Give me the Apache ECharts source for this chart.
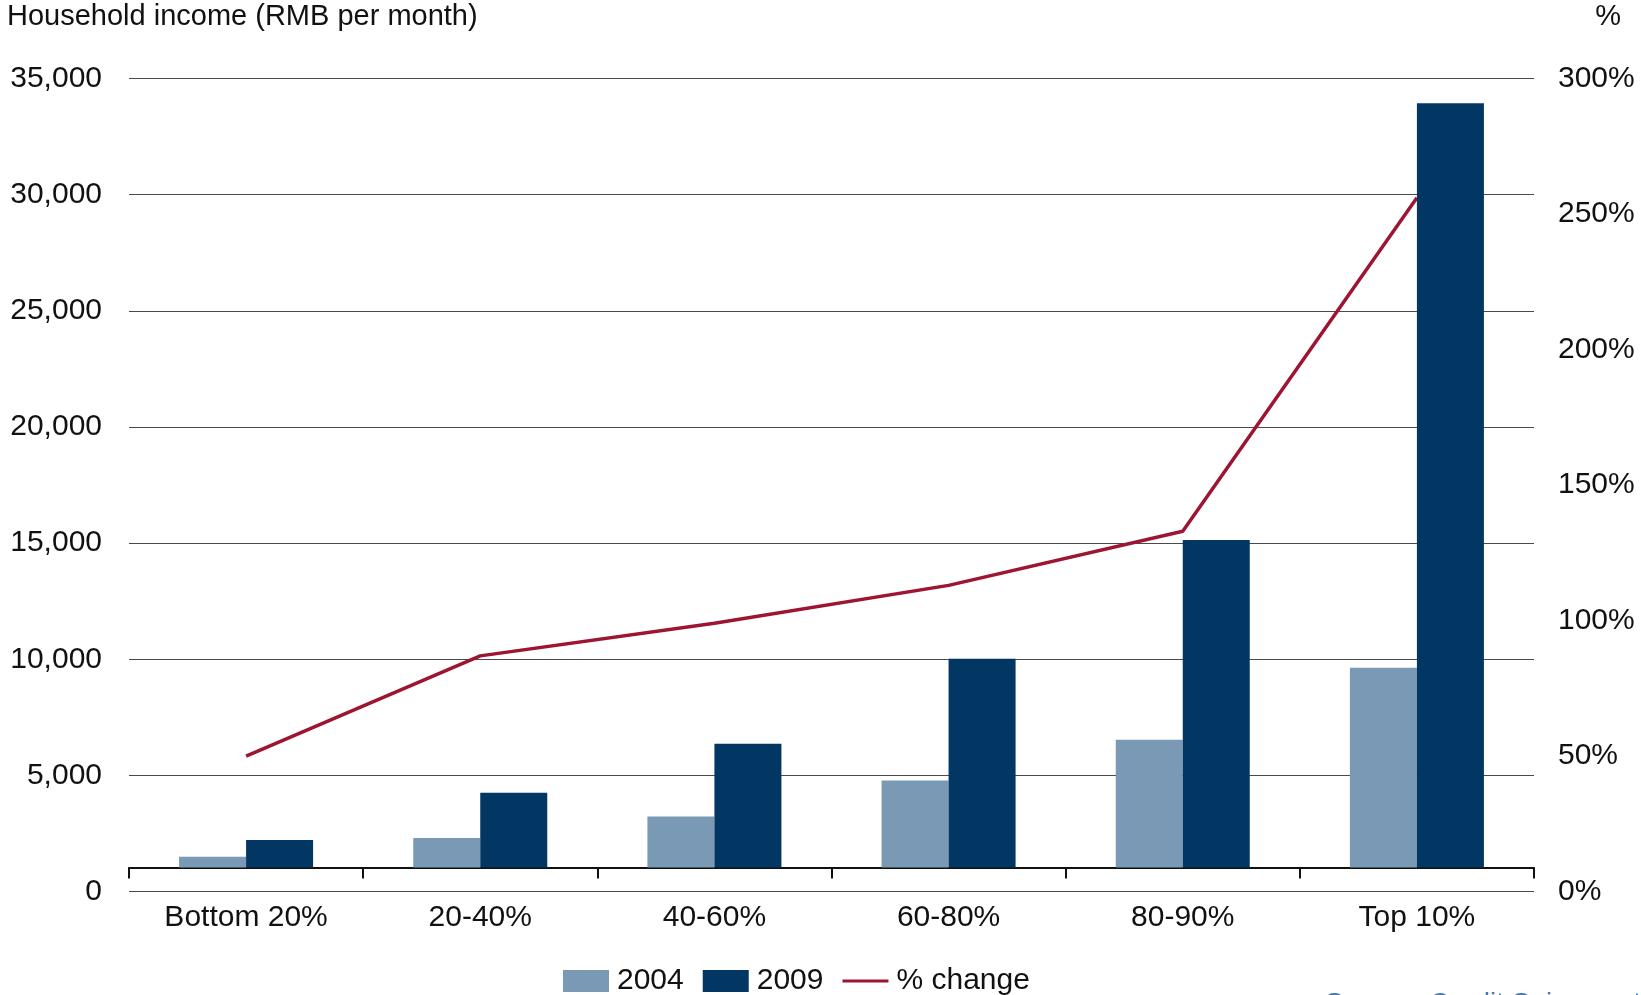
<!DOCTYPE html>
<html>
<head>
<meta charset="utf-8">
<title>Household income by income group, 2004 vs 2009</title>
<script src="https://cdn.jsdelivr.net/npm/echarts@6/dist/echarts.min.js"></script>
<style>
  html, body { margin: 0; padding: 0; background: #ffffff; }
  #chart { width: 1641px; height: 995px; }
</style>
</head>
<body>
<div id="chart"></div>
<script>
// Income groups
const categories = ['Bottom 20%', '20-40%', '40-60%', '60-80%', '80-90%', 'Top 10%'];
// Household income, RMB per month
const income2004 = [1470, 2280, 3200, 4750, 6510, 9610];
const income2009 = [2190, 4220, 6340, 10000, 15120, 33930];
// Change from 2004 to 2009, %
const pctChange = [50, 87, 99, 113, 133, 256];

// Axis scales
const leftTicks = { min: 0, max: 35000, interval: 5000 };
const rightTicks = { min: 0, max: 300, interval: 50 };
// The category axis crosses the income axis at this value; bars rise from it
const axisCross = 1000;

const FONT = 'Liberation Sans, Arial, sans-serif';
const TEXT = '#111111';
const C2004 = '#7a99b4';
const C2009 = '#033763';
const CLINE = '#9d1532';

const plotLeft = 129, plotRight = 1641 - 1534, plotTop = 78.5;
const zeroY = 891.7;      // pixel row of the 0 gridline
const crossY = 867.6;     // pixel row of the category axis line

// Legend icon for the line series: a 3px stroke inside a 46x22 box
const lineIcon = 'path://M0,0L0.01,0L0.01,0.01Z M0,9.5L46,9.5L46,12.5L0,12.5Z M45.99,21.99L46,21.99L46,22Z';

const chart = echarts.init(document.getElementById('chart'), null, { renderer: 'canvas' });

const fmtThousands = v => String(v).replace(/\B(?=(\d{3})+(?!\d))/g, ',');

chart.setOption({
  backgroundColor: '#ffffff',
  animation: false,
  textStyle: { fontFamily: FONT },
  grid: [
    // scale grid: 0 .. 35,000 and 0% .. 300%
    { left: plotLeft, right: plotRight, top: plotTop, bottom: 995 - zeroY },
    // bar grid: rises from the category axis line
    { left: plotLeft, right: plotRight, top: plotTop, bottom: 995 - crossY }
  ],
  xAxis: [
    { type: 'category', gridIndex: 0, data: categories, show: false, boundaryGap: true },
    {
      type: 'category', gridIndex: 1, data: categories, boundaryGap: true,
      axisLine: { show: true, lineStyle: { color: '#111111', width: 2 } },
      axisTick: { show: true, length: 11, lineStyle: { color: '#111111', width: 2 } },
      axisLabel: { color: TEXT, fontSize: 30, fontFamily: FONT, margin: 35 }
    }
  ],
  yAxis: [
    {
      type: 'value', gridIndex: 0, position: 'left',
      min: leftTicks.min, max: leftTicks.max, interval: leftTicks.interval,
      axisLine: { show: false }, axisTick: { show: false },
      axisLabel: { color: TEXT, fontSize: 30, fontFamily: FONT, margin: 27, formatter: fmtThousands },
      splitLine: { show: true, lineStyle: { color: '#4a4a4a', width: 1.2 } }
    },
    {
      type: 'value', gridIndex: 0, position: 'right',
      min: rightTicks.min, max: rightTicks.max, interval: rightTicks.interval,
      axisLine: { show: false }, axisTick: { show: false },
      axisLabel: { color: TEXT, fontSize: 30, fontFamily: FONT, margin: 24, formatter: '{value}%' },
      splitLine: { show: false }
    },
    {
      type: 'value', gridIndex: 1, position: 'left',
      min: axisCross, max: leftTicks.max,
      show: false, splitLine: { show: false }
    }
  ],
  legend: {
    left: 563, top: 966,
    itemWidth: 46, itemHeight: 22, itemGap: 19, padding: 0,
    textStyle: { color: TEXT, fontSize: 30, fontFamily: FONT, padding: [0, 0, 0, 3] },
    data: [
      { name: '2004', icon: 'rect' },
      { name: '2009', icon: 'rect' },
      { name: '% change', icon: lineIcon }
    ]
  },
  series: [
    {
      name: '2004', type: 'bar', xAxisIndex: 1, yAxisIndex: 2,
      data: income2004, barWidth: 67, barGap: '0%', clip: true, z: 3,
      itemStyle: { color: C2004 }
    },
    {
      name: '2009', type: 'bar', xAxisIndex: 1, yAxisIndex: 2,
      data: income2009, barWidth: 67, barGap: '0%', clip: true, z: 3,
      itemStyle: { color: C2009 }
    },
    {
      name: '% change', type: 'line', xAxisIndex: 0, yAxisIndex: 1,
      data: pctChange, symbol: 'none', z: 2,
      lineStyle: { color: CLINE, width: 3.5 },
      itemStyle: { color: CLINE }
    }
  ],
  graphic: [
    {
      type: 'text', left: 7, top: 2,
      style: { text: 'Household income (RMB per month)', fill: TEXT, fontSize: 29, fontFamily: FONT }
    },
    {
      type: 'text', right: 20, top: 2,
      style: { text: '%', fill: TEXT, fontSize: 29, fontFamily: FONT }
    },
    {
      type: 'text', x: 1325, y: 990,
      style: { text: 'Source: Credit Suisse estimates', fill: '#4a78a8', fontSize: 28, fontFamily: FONT, verticalAlign: 'top' }
    }
  ]
});
</script>
</body>
</html>
